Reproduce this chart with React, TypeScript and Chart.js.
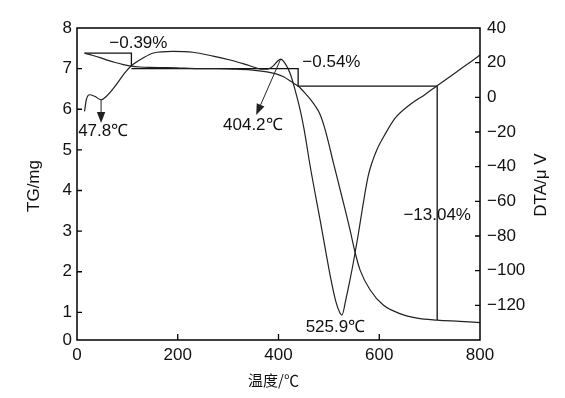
import React, { useEffect, useRef } from 'react';
import { Chart, registerables } from 'chart.js';

Chart.register(...registerables);

// ---- data ----
const TEMP_TG = [15, 30, 46, 60, 76, 92, 108, 125, 145, 170, 197, 240, 276, 310, 344, 377, 395, 410, 430, 440, 456, 463, 473, 483, 493, 509, 526, 542, 552, 562, 582, 608, 641, 675, 715, 760, 800];
const TG_MG = [7.38, 7.33, 7.27, 7.21, 7.15, 7.1, 7.06, 7.04, 7.03, 7.025, 7.02, 7.0, 7.0, 6.99, 6.97, 6.92, 6.87, 6.8, 6.64, 6.56, 6.35, 6.25, 6.08, 5.86, 5.48, 4.68, 3.84, 3.03, 2.48, 2.04, 1.55, 1.18, 0.97, 0.86, 0.81, 0.78, 0.75];

const TEMP_DTA = [15, 18.5, 25, 35, 48, 58, 78, 94.5, 108, 131, 152, 190, 230, 270, 310, 344, 368, 378, 388, 398, 404.2, 413, 423, 433, 443, 451, 463, 483, 502.6, 514, 522, 525.9, 534.3, 542.3, 550.2, 558.1, 566.1, 572, 578, 585.9, 595.8, 611.7, 631.5, 661.3, 691.1, 714.9, 754, 784, 800];
const DTA_UV = [-8.1, -1.4, 1.5, 0.6, -1.4, 0.5, 7.3, 14, 18.2, 22.7, 25.6, 26.5, 26.0, 23.8, 21.1, 18.1, 16.2, 16.2, 17.7, 20.8, 22, 19.6, 13.9, 4.2, -7.3, -18.8, -39.9, -71.4, -102.8, -118, -124.4, -125.6, -115.8, -104.8, -92.7, -79.5, -65.0, -54.7, -45.4, -37.4, -29.9, -21.2, -12.0, -4.1, 1.7, 6.7, 14.8, 21.0, 24.4];

// mass-loss step brackets (TG axis)
const STEP1_T = [15, 108, 108];
const STEP1_TG = [7.38, 7.38, 7.06];
const STEP2_T = [108, 439, 439, 715, 715];
const STEP2_TG = [7.0, 7.0, 6.57, 6.57, 0.81];

// axis ticks
const X_TICKS = [0, 200, 400, 600, 800];
const TG_TICKS = [1, 2, 3, 4, 5, 6, 7, 8];
const DTA_TICKS = [-120, -100, -80, -60, -40, -20, 0, 20, 40];
const X_MIN = 0, X_MAX = 800;
const TG_MIN = 0.32, TG_MAX = 8;
const DTA_MIN = -140, DTA_MAX = 40;

// annotations
const LOSS_LABELS = ['\u22120.39%', '\u22120.54%', '\u221213.04%'];
const LOSS_T = [121.8, 505, 715];
const LOSS_TG = [7.63, 7.16, 3.39];

const PEAK_LABELS = ['47.8\u2103', '404.2\u2103', '525.9\u2103'];
const PEAK_T = [52, 349, 513];
const PEAK_DTA = [-19.4, -16, -132.5];

const ARROW_FROM_T = [47.8, 404.2];
const ARROW_FROM_DTA = [-1.4, 22];
const ARROW_TO_T = [47.8, 355.7];
const ARROW_TO_DTA = [-14.8, -10.2];

const X_TITLE = '温度/℃';
const TG_TITLE = 'TG/mg';
const DTA_TITLE = 'DTA/\u03bc V';

const FONT = '"Liberation Sans", Arial, sans-serif';
const CJK = '"Noto Sans CJK SC", sans-serif';
const INK = '#111';
const FS = 17;

const pts = (xs: number[], ys: number[]) => xs.map((x, i) => ({ x, y: ys[i] }));
const fmt = (v: number) => (v < 0 ? '\u2212' + Math.abs(v) : String(v));

const decorPlugin = {
  id: 'decor',
  afterDatasetsDraw(chart: any) {
    const { ctx, chartArea: a, scales } = chart;
    const sx = scales.x, sy = scales.y, sy1 = scales.y1;
    ctx.save();
    // frame
    ctx.strokeStyle = '#000';
    ctx.lineWidth = 1.5;
    ctx.strokeRect(a.left, a.top, a.right - a.left, a.bottom - a.top);
    // inward tick marks
    ctx.lineWidth = 1.3;
    ctx.beginPath();
    X_TICKS.forEach((v) => {
      if (v <= X_MIN || v >= X_MAX) return;
      const px = sx.getPixelForValue(v);
      ctx.moveTo(px, a.bottom);
      ctx.lineTo(px, a.bottom - 6);
    });
    TG_TICKS.forEach((v) => {
      if (v >= TG_MAX) return;
      const py = sy.getPixelForValue(v);
      ctx.moveTo(a.left, py);
      ctx.lineTo(a.left + 5, py);
    });
    DTA_TICKS.forEach((v) => {
      if (v >= DTA_MAX) return;
      const py = sy1.getPixelForValue(v);
      ctx.moveTo(a.right, py);
      ctx.lineTo(a.right - 5, py);
    });
    ctx.stroke();

    // arrows
    ctx.strokeStyle = '#222';
    ctx.fillStyle = '#222';
    ctx.lineWidth = 1;
    ARROW_FROM_T.forEach((t, i) => {
      const x0 = sx.getPixelForValue(t), y0 = sy1.getPixelForValue(ARROW_FROM_DTA[i]);
      const x1 = sx.getPixelForValue(ARROW_TO_T[i]), y1 = sy1.getPixelForValue(ARROW_TO_DTA[i]);
      const ang = Math.atan2(y1 - y0, x1 - x0);
      const L = 11, W = 4.2;
      const bx = x1 - L * Math.cos(ang), by = y1 - L * Math.sin(ang);
      ctx.beginPath();
      ctx.moveTo(x0, y0);
      ctx.lineTo(bx, by);
      ctx.stroke();
      ctx.beginPath();
      ctx.moveTo(x1, y1);
      ctx.lineTo(bx + W * Math.sin(ang), by - W * Math.cos(ang));
      ctx.lineTo(bx - W * Math.sin(ang), by + W * Math.cos(ang));
      ctx.closePath();
      ctx.fill();
    });

    // text annotations
    ctx.fillStyle = INK;
    ctx.textAlign = 'center';
    ctx.textBaseline = 'middle';
    ctx.font = `${FS}px ${FONT}`;
    LOSS_LABELS.forEach((s, i) => {
      ctx.fillText(s, sx.getPixelForValue(LOSS_T[i]), sy.getPixelForValue(LOSS_TG[i]));
    });
    PEAK_LABELS.forEach((s, i) => {
      ctx.fillText(s, sx.getPixelForValue(PEAK_T[i]), sy1.getPixelForValue(PEAK_DTA[i]));
    });

    // axis titles
    const cy = (a.top + a.bottom) / 2;
    ctx.font = `${FS}px ${FONT}`;
    ctx.save();
    ctx.translate(34, cy + 2);
    ctx.rotate(-Math.PI / 2);
    ctx.fillText(TG_TITLE, 0, 0);
    ctx.restore();
    ctx.save();
    ctx.translate(541, cy + 1);
    ctx.rotate(-Math.PI / 2);
    ctx.fillText(DTA_TITLE, 0, 0);
    ctx.restore();
    ctx.font = `15px ${CJK}`;
    ctx.fillText(X_TITLE, (a.left + a.right) / 2 - 5, 380);
    ctx.restore();
  },
};

export default function App() {
  const ref = useRef<HTMLCanvasElement | null>(null);
  useEffect(() => {
    if (!ref.current) return;
    const tickFont = { family: FONT, size: FS };
    const curve = {
      borderColor: '#222',
      borderWidth: 1.2,
      pointRadius: 0,
      fill: false,
      cubicInterpolationMode: 'monotone' as const,
    };
    const step = { borderColor: '#111', borderWidth: 1.3, pointRadius: 0, fill: false, tension: 0 };
    const chart = new Chart(ref.current, {
      type: 'line',
      data: {
        datasets: [
          { ...curve, label: 'TG', data: pts(TEMP_TG, TG_MG), yAxisID: 'y' },
          { ...curve, label: 'DTA', data: pts(TEMP_DTA, DTA_UV), yAxisID: 'y1' },
          { ...step, label: 'step1', data: pts(STEP1_T, STEP1_TG), yAxisID: 'y' },
          { ...step, label: 'step2', data: pts(STEP2_T, STEP2_TG), yAxisID: 'y' },
        ],
      },
      options: {
        animation: false,
        responsive: false,
        events: [],
        layout: { padding: { top: 28, left: 0, right: 0, bottom: 0 } },
        plugins: { legend: { display: false }, tooltip: { enabled: false } },
        scales: {
          x: {
            type: 'linear',
            min: X_MIN,
            max: X_MAX,
            grid: { display: false, drawTicks: false },
            border: { display: false },
            afterBuildTicks: (s: any) => { s.ticks = X_TICKS.map((value) => ({ value })); },
            afterFit: (s: any) => { s.height = 58; },
            ticks: { font: tickFont, color: INK, padding: 5, maxRotation: 0, callback: (v: any) => fmt(Number(v)) },
          },
          y: {
            type: 'linear',
            position: 'left',
            min: TG_MIN,
            max: TG_MAX,
            grid: { display: false, drawTicks: false },
            border: { display: false },
            afterBuildTicks: (s: any) => { s.ticks = [TG_MIN, ...TG_TICKS].map((value) => ({ value })); },
            afterFit: (s: any) => { s.width = 77; },
            ticks: { font: tickFont, color: INK, padding: 5, callback: (v: any) => (Number(v) === TG_MIN ? '0' : fmt(Number(v))) },
          },
          y1: {
            type: 'linear',
            position: 'right',
            min: DTA_MIN,
            max: DTA_MAX,
            grid: { display: false, drawTicks: false },
            border: { display: false },
            afterBuildTicks: (s: any) => { s.ticks = DTA_TICKS.map((value) => ({ value })); },
            afterFit: (s: any) => { s.width = 85; },
            ticks: { font: tickFont, color: INK, padding: 7, callback: (v: any) => fmt(Number(v)) },
          },
        },
      },
      plugins: [decorPlugin],
    });
    return () => chart.destroy();
  }, []);
  return (
    <div style={{ position: 'absolute', left: 0, top: 0, width: 565, height: 398, background: '#fff' }}>
      <canvas ref={ref} width={565} height={398} />
    </div>
  );
}
